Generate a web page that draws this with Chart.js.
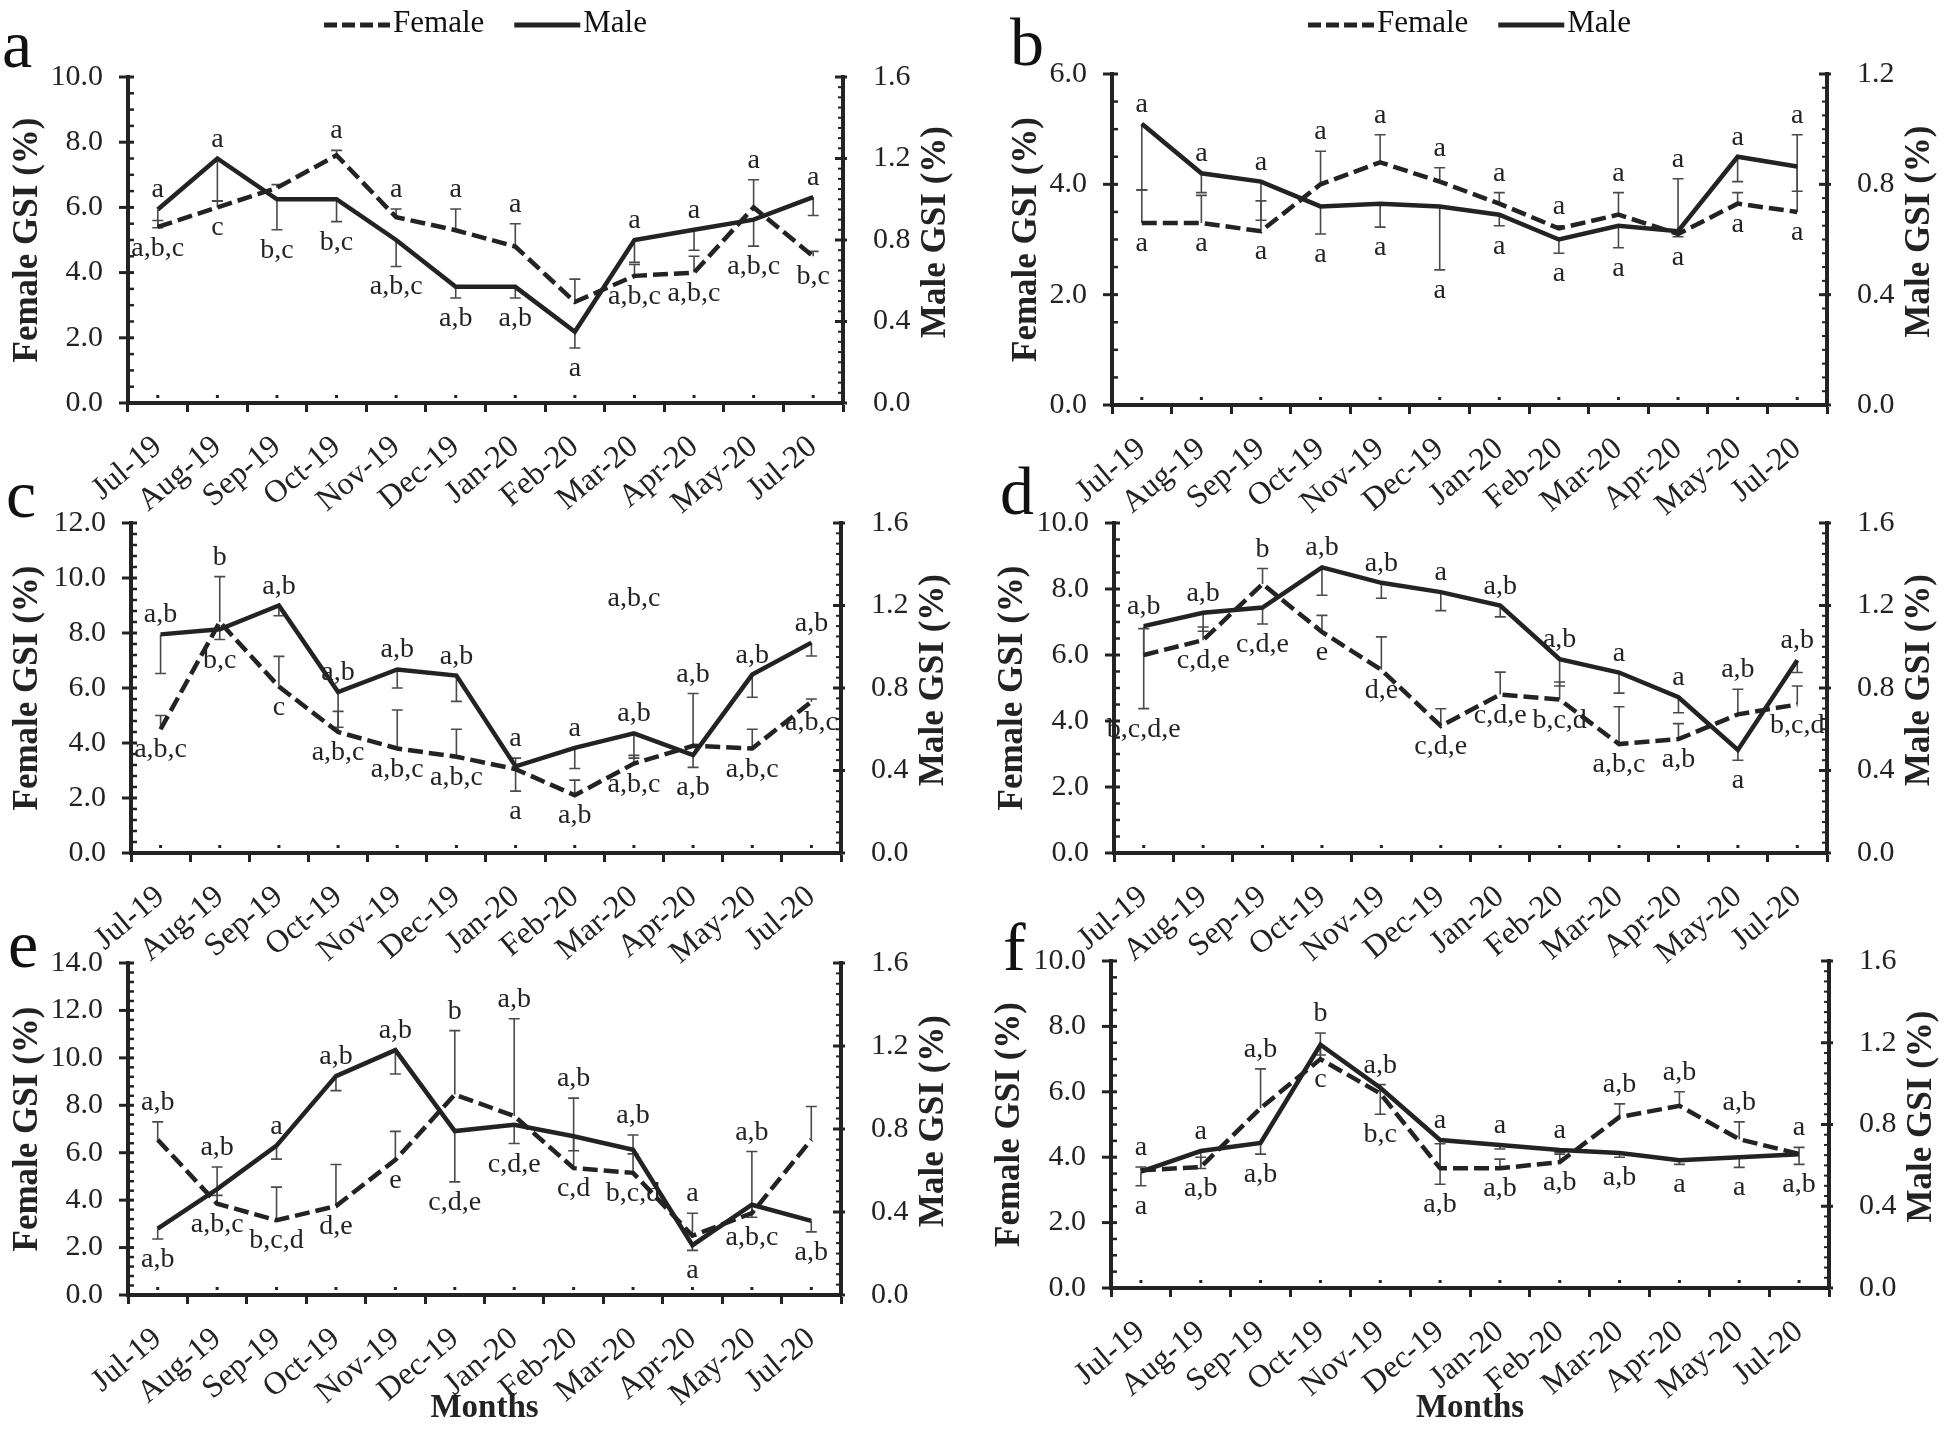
<!DOCTYPE html>
<html>
<head>
<meta charset="utf-8">
<title>Monthly GSI</title>
<script src="https://cdn.jsdelivr.net/npm/chart.js@4.4.1/dist/chart.umd.min.js"></script>
<style>
  body { margin: 0; background: #fff; }
  #page { position: relative; width: 1946px; height: 1438px; overflow: hidden; background: #fff; }
  .box { position: absolute; }
</style>
</head>
<body>
<div id="page">
  <div class="box" style="left:0px;top:0px;width:973px;height:520px"><canvas id="panelA"></canvas></div>
  <div class="box" style="left:973px;top:0px;width:973px;height:520px"><canvas id="panelB"></canvas></div>
  <div class="box" style="left:0px;top:440px;width:973px;height:540px"><canvas id="panelC"></canvas></div>
  <div class="box" style="left:973px;top:440px;width:973px;height:540px"><canvas id="panelD"></canvas></div>
  <div class="box" style="left:0px;top:900px;width:973px;height:538px"><canvas id="panelE"></canvas></div>
  <div class="box" style="left:973px;top:900px;width:973px;height:538px"><canvas id="panelF"></canvas></div>
</div>
<script>
// month categories (same for all six panels)
const months = ['Jul-19', 'Aug-19', 'Sep-19', 'Oct-19', 'Nov-19', 'Dec-19', 'Jan-20', 'Feb-20', 'Mar-20', 'Apr-20', 'May-20', 'Jul-20'];

// panel a
const femaleA = [5.4, 6.0, 6.6, 7.6, 5.7, 5.3, 4.8, 3.1, 3.9, 4.0, 6.0, 4.5];
const femaleErrA = [0.2, 0.2, 0.1, 0.15, 0.25, 0.65, 0.7, 0.7, 0.35, 0.5, 0.85, 0.15];
const maleA = [0.95, 1.20, 1.00, 1.00, 0.80, 0.57, 0.57, 0.35, 0.80, 0.85, 0.90, 1.01];
const maleErrA = [0.09, 0.21, 0.15, 0.11, 0.13, 0.055, 0.055, 0.08, 0.11, 0.1, 0.13, 0.09];
const topLabelsA = ['a', 'a', '', 'a', 'a', 'a', 'a', '', 'a', 'a', 'a', 'a'];
const bottomLabelsA = ['a,b,c', 'c', 'b,c', 'b,c', 'a,b,c', 'a,b', 'a,b', 'a', 'a,b,c', 'a,b,c', 'a,b,c', 'b,c'];

// panel b
const femaleB = [3.3, 3.3, 3.15, 4.0, 4.4, 4.05, 3.65, 3.2, 3.45, 3.1, 3.65, 3.5];
const femaleErrB = [0.6, 0.5, 0.55, 0.6, 0.5, 0.25, 0.2, 0.05, 0.4, 1.0, 0.2, 1.4];
const maleB = [1.02, 0.84, 0.81, 0.72, 0.73, 0.72, 0.69, 0.60, 0.65, 0.63, 0.90, 0.865];
const maleErrB = [0.24, 0.07, 0.14, 0.1, 0.085, 0.23, 0.04, 0.05, 0.08, 0.02, 0.09, 0.09];
const topLabelsB = ['a', 'a', 'a', 'a', 'a', 'a', 'a', 'a', 'a', 'a', 'a', 'a'];
const bottomLabelsB = ['a', 'a', 'a', 'a', 'a', 'a', 'a', 'a', 'a', 'a', 'a', 'a'];

// panel c
const femaleC = [4.5, 8.4, 6.05, 4.4, 3.8, 3.5, 3.05, 2.1, 3.25, 3.9, 3.8, 5.5];
const femaleErrC = [0.5, 1.65, 1.1, 0.75, 1.4, 1.0, 0.4, 0.55, 0.3, 1.9, 0.7, 0.1];
const maleC = [1.06, 1.085, 1.20, 0.78, 0.89, 0.86, 0.42, 0.51, 0.58, 0.475, 0.865, 1.02];
const maleErrC = [0.19, 0.05, 0.05, 0.17, 0.09, 0.125, 0.12, 0.1, 0.12, 0.06, 0.11, 0.065];
const topLabelsC = ['a,b', 'b', 'a,b', 'a,b', 'a,b', 'a,b', 'a', 'a', 'a,b', 'a,b', 'a,b', 'a,b'];
const bottomLabelsC = ['a,b,c', 'b,c', 'c', 'a,b,c', 'a,b,c', 'a,b,c', 'a', 'a,b', 'a,b,c', 'a,b', 'a,b,c', 'a,b,c'];
const strayLabelC = { month: 'Mar-20', value: 9.0, text: 'a,b,c' };

// panel d
const femaleD = [6.0, 6.45, 8.15, 6.7, 5.55, 3.85, 4.8, 4.65, 3.3, 3.45, 4.2, 4.5];
const femaleErrD = [0.8, 0.4, 0.47, 0.5, 1.0, 0.52, 0.68, 0.53, 1.13, 0.47, 0.76, 0.56];
const maleD = [1.10, 1.165, 1.19, 1.385, 1.31, 1.265, 1.20, 0.94, 0.875, 0.755, 0.50, 0.935];
const maleErrD = [0.40, 0.09, 0.08, 0.135, 0.075, 0.09, 0.055, 0.13, 0.1, 0.075, 0.05, 0.06];
const topLabelsD = ['a,b', 'a,b', 'b', 'a,b', 'a,b', 'a', 'a,b', 'a,b', 'a', 'a', 'a,b', 'a,b'];
const bottomLabelsD = ['b,c,d,e', 'c,d,e', 'c,d,e', 'e', 'd,e', 'c,d,e', 'c,d,e', 'b,c,d', 'a,b,c', 'a,b', 'a', 'b,c,d'];

// panel e
const femaleE = [6.55, 3.85, 3.15, 3.75, 5.7, 8.45, 7.55, 5.35, 5.15, 2.5, 3.45, 6.55];
const femaleErrE = [0.75, 1.55, 1.4, 1.75, 1.2, 2.7, 4.1, 2.95, 1.6, 0.95, 2.6, 1.4];
const maleE = [0.32, 0.51, 0.72, 1.055, 1.18, 0.79, 0.82, 0.765, 0.70, 0.24, 0.435, 0.357];
const maleErrE = [0.05, 0.03, 0.065, 0.07, 0.115, 0.245, 0.09, 0.07, 0.02, 0.025, 0.06, 0.053];
const topLabelsE = ['a,b', 'a,b', 'a', 'a,b', 'a,b', 'b', 'a,b', 'a,b', 'a,b', 'a', 'a,b', ''];
const bottomLabelsE = ['a,b', 'a,b,c', 'b,c,d', 'd,e', 'e', 'c,d,e', 'c,d,e', 'c,d', 'b,c,d', 'a', 'a,b,c', 'a,b'];

// panel f
const femaleF = [3.6, 3.7, 5.5, 7.0, 5.95, 3.66, 3.66, 3.85, 5.23, 5.57, 4.55, 4.1];
const femaleErrF = [0.1, 0.3, 1.2, 0.8, 0.27, 0.75, 0.28, 0.3, 0.4, 0.43, 0.53, 0.2];
const maleF = [0.57, 0.67, 0.71, 1.19, 0.98, 0.724, 0.70, 0.675, 0.66, 0.625, 0.64, 0.655];
const maleErrF = [0.07, 0.085, 0.055, 0.05, 0.13, 0.216, 0.02, 0.02, 0.02, 0.02, 0.05, 0.05];
const topLabelsF = ['a', 'a', 'a,b', 'b', 'a,b', 'a', 'a', 'a', 'a,b', 'a,b', 'a,b', 'a'];
const bottomLabelsF = ['a', 'a,b', 'a,b', 'c', 'b,c', 'a,b', 'a,b', 'a,b', 'a,b', 'a', 'a', 'a,b'];

// axis ranges (female left, male right) and minor tick steps
const femaleMax = [10, 6, 12, 10, 14, 10];
const maleMax = [1.6, 1.2, 1.6, 1.6, 1.6, 1.6];
const femaleMinor = [0.5, 0.5, 0.4, 0.5, 0.4, 0.5];
const maleMinor = [0.05, 0.05, 0.05, 0.05, 0.05, 0.05];

const ink = '#232323';
const serif = '"Liberation Serif", "Times New Roman", serif';

// panel placement inside each canvas
const panels = {
  panelA: { n: 0, female: femaleA, femaleErr: femaleErrA, male: maleA, maleErr: maleErrA, top: topLabelsA, bottom: bottomLabelsA, stray: [],
            padTop: 77, padLeft: 0, leftW: 128, rightW: 130, xH: 117, letter: 'a', lx: 2, ly: 67, legend: true, months: false },
  panelB: { n: 1, female: femaleB, femaleErr: femaleErrB, male: maleB, maleErr: maleErrB, top: topLabelsB, bottom: bottomLabelsB, stray: [],
            padTop: 74, padLeft: 26, leftW: 113, rightW: 119, xH: 115, letter: 'b', lx: 37, ly: 65, legend: true, months: false },
  panelC: { n: 2, female: femaleC, femaleErr: femaleErrC, male: maleC, maleErr: maleErrC, top: topLabelsC, bottom: bottomLabelsC, stray: [strayLabelC],
            padTop: 83, padLeft: 0, leftW: 131, rightW: 132, xH: 127, letter: 'c', lx: 6, ly: 77, legend: false, months: false },
  panelD: { n: 3, female: femaleD, femaleErr: femaleErrD, male: maleD, maleErr: maleErrD, top: topLabelsD, bottom: bottomLabelsD, stray: [],
            padTop: 83, padLeft: 12, leftW: 129, rightW: 119, xH: 127, letter: 'd', lx: 27, ly: 74, legend: false, months: false },
  panelE: { n: 4, female: femaleE, femaleErr: femaleErrE, male: maleE, maleErr: maleErrE, top: topLabelsE, bottom: bottomLabelsE, stray: [],
            padTop: 63, padLeft: 0, leftW: 128, rightW: 132, xH: 143, letter: 'e', lx: 8, ly: 67, legend: false, months: true },
  panelF: { n: 5, female: femaleF, femaleErr: femaleErrF, male: maleF, maleErr: maleErrF, top: topLabelsF, bottom: bottomLabelsF, stray: [],
            padTop: 61, padLeft: 9, leftW: 129, rightW: 117, xH: 150, letter: 'f', lx: 30, ly: 70, legend: false, months: true }
};

// error bars, significance letters, minor ticks, right title, legend, panel letter
const gsiExtras = {
  id: 'gsiExtras',
  beforeDatasetsDraw(chart) {
    const ctx = chart.ctx;
    const xs = chart.scales.x;
    ctx.save();
    ctx.strokeStyle = '#4a4a4a';
    ctx.lineWidth = 1.6;
    chart.data.datasets.forEach(ds => {
      const s = chart.scales[ds.yAxisID];
      ds.data.forEach((v, i) => {
        const px = xs.getPixelForValue(i);
        const y0 = s.getPixelForValue(v);
        const y1 = s.getPixelForValue(v + ds.errDir * ds.errors[i]);
        ctx.beginPath();
        ctx.moveTo(px, y0);
        ctx.lineTo(px, y1);
        ctx.moveTo(px - 5.5, y1);
        ctx.lineTo(px + 5.5, y1);
        ctx.stroke();
      });
    });
    ctx.restore();
  },
  afterDatasetsDraw(chart) {
    const p = panels[chart.canvas.id];
    const ctx = chart.ctx;
    const xs = chart.scales.x, fs = chart.scales.yF, ms = chart.scales.yM;
    const fd = chart.data.datasets[0], md = chart.data.datasets[1];
    ctx.save();
    ctx.fillStyle = ink;
    ctx.font = '28px ' + serif;
    ctx.textAlign = 'center';
    ctx.textBaseline = 'alphabetic';
    months.forEach((m, i) => {
      const px = xs.getPixelForValue(i);
      const ys = [
        fs.getPixelForValue(fd.data[i]),
        fs.getPixelForValue(fd.data[i] + fd.errors[i]),
        ms.getPixelForValue(md.data[i]),
        ms.getPixelForValue(md.data[i] - md.errors[i])
      ];
      const top = Math.min(...ys), bottom = Math.max(...ys);
      if (p.top[i]) ctx.fillText(p.top[i], px, top - 12);
      if (p.bottom[i]) ctx.fillText(p.bottom[i], px, bottom + 28);
    });
    p.stray.forEach(s => {
      ctx.fillText(s.text, xs.getPixelForValue(months.indexOf(s.month)), fs.getPixelForValue(s.value));
    });
    ctx.restore();
  },
  afterDraw(chart) {
    const p = panels[chart.canvas.id];
    const ctx = chart.ctx;
    const area = chart.chartArea;
    const xs = chart.scales.x, fs = chart.scales.yF, ms = chart.scales.yM;
    ctx.save();
    ctx.strokeStyle = ink;
    ctx.fillStyle = ink;

    // left axis: major ticks cross the axis, minor ticks inside
    const lx = area.left;
    for (let k = 0; k <= Math.round(femaleMax[p.n] / femaleMinor[p.n]); k++) {
      const v = k * femaleMinor[p.n];
      const y = fs.getPixelForValue(v);
      const major = Math.abs(v / 2 - Math.round(v / 2)) < 1e-6;
      ctx.lineWidth = major ? 3 : 2.5;
      ctx.beginPath();
      ctx.moveTo(major ? lx - 9 : lx, y);
      ctx.lineTo(lx + 6, y);
      ctx.stroke();
    }
    // right axis
    const rx = area.right;
    for (let k = 0; k <= Math.round(maleMax[p.n] / maleMinor[p.n]); k++) {
      const v = k * maleMinor[p.n];
      const y = ms.getPixelForValue(v);
      const major = Math.abs(v / 0.4 - Math.round(v / 0.4)) < 1e-6;
      ctx.lineWidth = major ? 3 : 2;
      ctx.beginPath();
      ctx.moveTo(rx - (major ? 8 : 5), y);
      ctx.lineTo(rx + (major ? 4 : 0), y);
      ctx.stroke();
    }
    // small marks at the category centres
    months.forEach((m, i) => {
      const px = xs.getPixelForValue(i);
      ctx.fillRect(px - 1.5, area.bottom - 8, 3, 3);
    });

    // right axis title, reading bottom to top
    ctx.save();
    ctx.translate(rx + 93, (area.top + area.bottom) / 2 - 8);
    ctx.rotate(-Math.PI / 2);
    ctx.font = 'bold 35px ' + serif;
    ctx.textAlign = 'center';
    ctx.textBaseline = 'middle';
    ctx.fillText('Male GSI (%)', 0, 0);
    ctx.restore();

    // panel letter
    ctx.font = '68px ' + serif;
    ctx.textAlign = 'left';
    ctx.textBaseline = 'alphabetic';
    ctx.fillStyle = '#111';
    ctx.fillText(p.letter, p.lx, p.ly);

    // legend above the top panels
    if (p.legend) {
      ctx.font = '31px ' + serif;
      ctx.textBaseline = 'middle';
      const lineLen = 66, gapText = 3, gapItem = 30;
      const items = chart.data.datasets.map(ds => ({ text: ds.label, dash: ds.borderDash || [], w: ctx.measureText(ds.label).width }));
      const total = items.reduce((s, it) => s + lineLen + gapText + it.w, 0) + gapItem * (items.length - 1);
      let cx = (area.left + area.right) / 2 - total / 2;
      items.forEach(it => {
        ctx.lineWidth = 5;
        ctx.setLineDash(it.dash.length ? [13, 5] : []);
        ctx.beginPath();
        ctx.moveTo(cx, 25);
        ctx.lineTo(cx + lineLen, 25);
        ctx.stroke();
        ctx.setLineDash([]);
        ctx.fillText(it.text, cx + lineLen + gapText, 24);
        cx += lineLen + gapText + it.w + gapItem;
      });
    }
    ctx.restore();
  }
};

function buildChart(id) {
  const p = panels[id];
  return new Chart(document.getElementById(id), {
    type: 'line',
    data: {
      labels: months,
      datasets: [
        { label: 'Female', data: p.female, errors: p.femaleErr, errDir: 1, yAxisID: 'yF',
          borderColor: ink, borderWidth: 4.5, borderDash: [15, 6], pointRadius: 0, tension: 0, fill: false },
        { label: 'Male', data: p.male, errors: p.maleErr, errDir: -1, yAxisID: 'yM',
          borderColor: ink, borderWidth: 4.5, pointRadius: 0, tension: 0, fill: false }
      ]
    },
    options: {
      responsive: true,
      maintainAspectRatio: false,
      animation: false,
      layout: { padding: { top: p.padTop, left: p.padLeft, right: 0, bottom: 0 } },
      plugins: {
        legend: { display: false },
        tooltip: { enabled: false }
      },
      scales: {
        x: {
          offset: true,
          grid: { display: true, drawOnChartArea: false, drawTicks: true, tickLength: 9, tickWidth: 3, tickColor: ink, offset: true },
          border: { display: true, width: 4, color: ink },
          ticks: { color: ink, font: { family: serif, size: 32 }, minRotation: 40, maxRotation: 40, autoSkip: false, padding: 16 },
          title: { display: p.months, text: 'Months', color: ink, font: { family: serif, size: 33, weight: 'bold' }, padding: 10 },
          afterFit(scale) { scale.height = p.xH; }
        },
        yF: {
          position: 'left',
          min: 0,
          max: femaleMax[p.n],
          grid: { display: false },
          border: { display: true, width: 4, color: ink },
          ticks: { stepSize: 2, color: ink, font: { family: serif, size: 30 }, padding: 17, callback: v => v.toFixed(1) },
          title: { display: true, text: 'Female GSI (%)', color: ink, font: { family: serif, size: 35, weight: 'bold' }, padding: 7 },
          afterFit(scale) { scale.width = p.leftW; }
        },
        yM: {
          position: 'right',
          min: 0,
          max: maleMax[p.n],
          grid: { display: false },
          border: { display: true, width: 4, color: ink },
          ticks: { stepSize: 0.4, color: ink, font: { family: serif, size: 30 }, padding: 22, callback: v => v.toFixed(1) },
          afterFit(scale) { scale.width = p.rightW; }
        }
      }
    },
    plugins: [gsiExtras]
  });
}

Object.keys(panels).forEach(buildChart);
</script>
</body>
</html>
